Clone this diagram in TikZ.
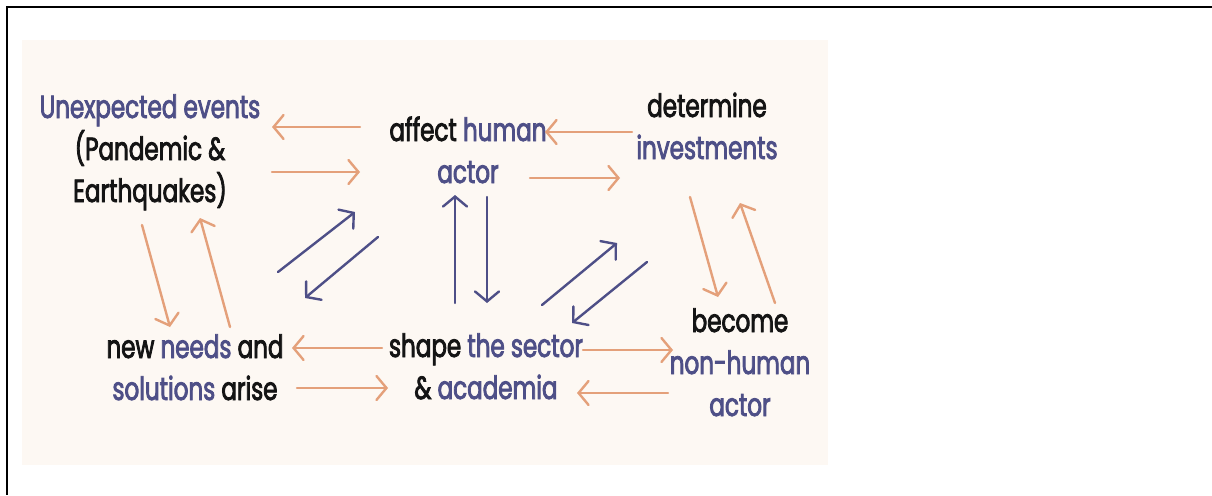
\documentclass[tikz,border=0pt]{standalone}
\usepackage{fontspec}
\setmainfont{Poppins}[FakeStretch=0.72,FakeBold=2.5]
\usetikzlibrary{arrows.meta}
\definecolor{ink}{RGB}{20,20,20}
\definecolor{slate}{RGB}{78,79,135}
\definecolor{peach}{RGB}{228,160,122}
\definecolor{cream}{RGB}{253,248,243}
\tikzset{
  lbl/.style={align=center, anchor=base, inner sep=0pt, text=ink, font=\fontsize{32}{42}\selectfont},
  warm/.style={draw=peach, line width=2.4pt, line cap=round, -{Straight Barb[length=10pt,width=24pt,line cap=round]}},
  cool/.style={warm, draw=slate},
}
\newcommand{\bl}[1]{\textcolor{slate}{#1}}

\begin{document}
\begin{tikzpicture}[x=1pt,y=-1pt]
\useasboundingbox (0,0) rectangle (1212,495);
\fill[cream] (22,40) rectangle (828,465);
\draw[line width=2.5pt] (1212,7) -- (7,7) -- (7,495);

\node[lbl] (ev) at (150,202) {\bl{Unexpected events}\\(Pandemic \&\\Earthquakes)};
\node[lbl] (hum) at (468,183) {affect \bl{human}\\\bl{actor}};
\node[lbl] (inv) at (707,159) {determine\\\bl{investments}};
\node[lbl] (nh) at (740,416) {become\\\bl{non-human}\\\bl{actor}};
\node[lbl] (sec) at (486,399) {shape \bl{the sector}\\\& \bl{academia}};
\node[lbl] (need) at (195,400) {new \bl{needs} and\\\bl{solutions} arise};

% top row
\draw[warm] ([shift={(-108,-56)}]hum.base) -- ([shift={(122,-75)}]ev.base);
\draw[warm] ([shift={(122,-30)}]ev.base) -- ([shift={(-108,-11)}]hum.base);
\draw[warm] ([shift={(-75,-27)}]inv.base) -- ([shift={(77,-51)}]hum.base);
\draw[warm] ([shift={(62,-5)}]hum.base) -- ([shift={(-87,19)}]inv.base);
% sides
\draw[warm] ([shift={(-8,23)}]ev.base) -- ([shift={(-25,-73)}]need.base);
\draw[warm] ([shift={(35,-73)}]need.base) -- ([shift={(50,16)}]ev.base);
\draw[warm] ([shift={(-17,38)}]inv.base) -- ([shift={(-22,-119)}]nh.base);
\draw[warm] ([shift={(35,-113)}]nh.base) -- ([shift={(33,44)}]inv.base);
% middle
\draw[cool] ([shift={(83,-128)}]need.base) -- ([shift={(-113,29)}]hum.base);
\draw[cool] ([shift={(-90,54)}]hum.base) -- ([shift={(110,-102)}]need.base);
\draw[cool] ([shift={(-31,-96)}]sec.base) -- ([shift={(-13,12)}]hum.base);
\draw[cool] ([shift={(19,14)}]hum.base) -- ([shift={(1,-96)}]sec.base);
\draw[cool] ([shift={(56,-94)}]sec.base) -- ([shift={(-90,84)}]inv.base);
\draw[cool] ([shift={(-60,103)}]inv.base) -- ([shift={(86,-76)}]sec.base);
% bottom row
\draw[warm] ([shift={(-104,-51)}]sec.base) -- ([shift={(97,-52)}]need.base);
\draw[warm] ([shift={(102,-12)}]need.base) -- ([shift={(-98,-11)}]sec.base);
\draw[warm] ([shift={(97,-49)}]sec.base) -- ([shift={(-67,-66)}]nh.base);
\draw[warm] ([shift={(-72,-23)}]nh.base) -- ([shift={(91,-6)}]sec.base);
\end{tikzpicture}
\end{document}
